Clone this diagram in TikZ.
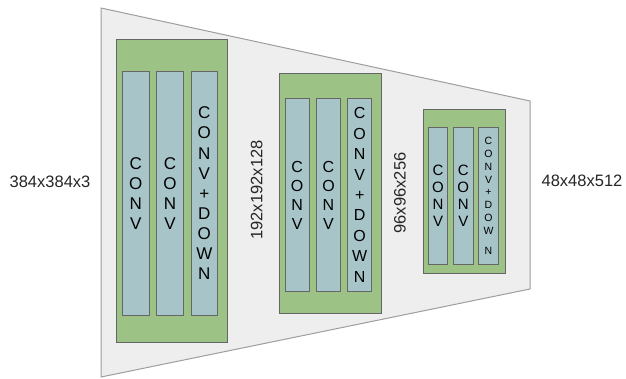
\documentclass[tikz,border=0pt]{standalone}
\usepackage{fontspec}
\setmainfont{Liberation Sans}
\usepackage{xcolor}

\definecolor{funnelgray}{HTML}{EEEEEE}
\definecolor{funneledge}{HTML}{9E9E9E}
\definecolor{blockgreen}{HTML}{9CC385}
\definecolor{layerblue}{HTML}{A7C4C8}
\definecolor{edgedark}{HTML}{666666}

\tikzset{
  block/.style={rectangle, draw=edgedark, fill=blockgreen, line width=0.8pt, inner sep=0pt},
  layer/.style={rectangle, draw=edgedark, fill=layerblue, line width=0.8pt, inner sep=0pt, align=center},
  bigfont/.style={font=\fontsize{17}{20.1}\selectfont},
  medfont/.style={font=\fontsize{16}{19}\selectfont},
  midfont/.style={font=\fontsize{15}{17.2}\selectfont},
  tinyfont/.style={font=\fontsize{10.5}{12.8}\selectfont},
  dimlabel/.style={font=\fontsize{16.5}{19}\selectfont, text=black!85}
}

\begin{document}
\begin{tikzpicture}[x=1pt, y=-1pt]
      \useasboundingbox (0,0) rectangle (626,379);

      % encoder outline
      \filldraw[fill=funnelgray, draw=funneledge, line width=1pt]
        (101,8) -- (530,101) -- (530,289) -- (101,377) -- cycle;

      % first stage
      \node (B1) [block, minimum width=111pt, minimum height=303pt] at (171.5,190.5) {};
      \node (L11) [layer, bigfont, minimum width=27pt, minimum height=244.7pt] at (135.8,193.3) {C\\O\\N\\V};
      \node (L12) [layer, bigfont, minimum width=26.6pt, minimum height=244.7pt] at (170,193.3) {C\\O\\N\\V};
      \node (L13) [layer, bigfont, minimum width=26.7pt, minimum height=244.7pt] at (204.3,193.3) {C\\O\\N\\V\\+\\D\\O\\W\\N};

      % second stage
      \node (B2) [block, minimum width=101.7pt, minimum height=240pt] at (330.2,193.3) {};
      \node (L21) [layer, medfont, minimum width=24.3pt, minimum height=193.4pt] at (297.2,195) {C\\O\\N\\V};
      \node (L22) [layer, medfont, minimum width=24.4pt, minimum height=193.4pt] at (328.5,195) {C\\O\\N\\V};
      \node (L23) [layer, font=\fontsize{16}{20.4}\selectfont, minimum width=24pt, minimum height=193.4pt] at (359.7,195) {C\\O\\N\\V\\+\\D\\O\\W\\N};

      % third stage
      \node (B3) [block, minimum width=82.4pt, minimum height=164.3pt] at (464.5,191.2) {};
      \node (L31) [layer, midfont, minimum width=19.4pt, minimum height=136.7pt] at (438,195.7) {C\\O\\N\\V};
      \node (L32) [layer, midfont, minimum width=20pt, minimum height=136.7pt] at (463.3,195.7) {C\\O\\N\\V};
      \node (L33) [layer, tinyfont, minimum width=19.6pt, minimum height=136.7pt] at (488.5,195.7) {C\\O\\N\\V\\+\\D\\O\\W\\[7pt]N};

      % feature map sizes
      \node (S0) [dimlabel] at (50,181.7) {384x384x3};
      \node (S1) [dimlabel, rotate=90] at (256.7,190) {192x192x128};
      \node (S2) [dimlabel, rotate=90] at (400,193) {96x96x256};
      \node (S3) [dimlabel] at (582,180.7) {48x48x512};
    \end{tikzpicture}
\end{document}
